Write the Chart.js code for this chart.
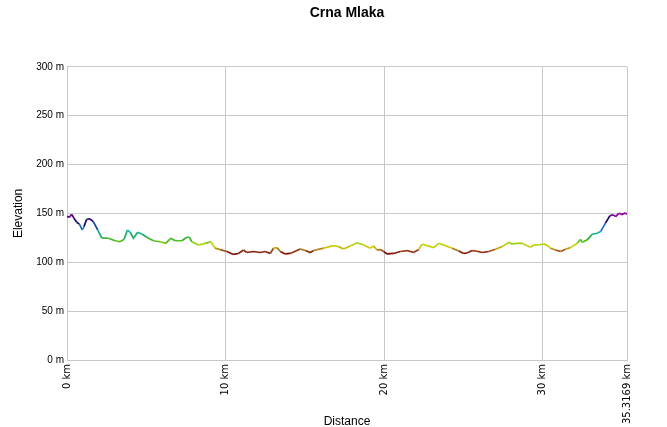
<!DOCTYPE html>
<html>
<head>
<meta charset="utf-8">
<script src="https://cdn.jsdelivr.net/npm/chart.js@4/dist/chart.umd.min.js"></script>
<style>
  html, body { margin: 0; padding: 0; background: #ffffff; }
  #wrap { width: 667px; height: 427px; position: relative; }
</style>
</head>
<body>
<div id="wrap"><canvas id="c" width="667" height="427"></canvas></div>
<script>
const chartTitle = "Crna Mlaka";
const xAxisTitle = "Distance";
const yAxisTitle = "Elevation";

// distance along the track, km
const distanceKm = [
  0, 0.13, 0.30, 0.44, 0.61, 0.78, 0.97, 1.07, 1.24, 1.45,
  1.66, 1.94, 2.19, 2.61, 3.03, 3.35, 3.6, 3.81, 3.98, 4.19,
  4.46, 4.72, 5.03, 5.45, 5.87, 6.23, 6.55, 6.82, 7.24, 7.56,
  7.72, 7.87, 8.29, 8.71, 9.07, 9.34, 9.66, 10.08, 10.5, 10.81,
  11.13, 11.34, 11.76, 12.18, 12.5, 12.82, 13.02, 13.24, 13.45, 13.76,
  14.08, 14.71, 15.03, 15.34, 15.55, 16.18, 16.81, 17.13, 17.44, 17.87,
  18.29, 18.71, 19.13, 19.34, 19.55, 19.76, 19.97, 20.18, 20.6, 21.02,
  21.45, 21.86, 22.18, 22.39, 22.71, 23.13, 23.44, 23.86, 24.29, 24.7,
  25.02, 25.23, 25.55, 25.87, 26.18, 26.6, 27.02, 27.44, 27.86, 28.07,
  28.39, 28.71, 29.02, 29.23, 29.44, 29.75, 30.07, 30.28, 30.49, 30.81,
  31.12, 31.44, 31.75, 32.18, 32.39, 32.49, 32.81, 33.12, 33.44, 33.65,
  33.96, 34.24, 34.45, 34.6, 34.8, 35.01, 35.16, 35.3169
];

// elevation, m
const elevationM = [
  147, 146, 149, 145, 141, 139, 133, 136.5, 144, 144.4,
  141.6, 133, 125, 124.6, 122, 121, 123.5, 133, 130.7, 124.6,
  130.7, 129, 125.6, 122, 121, 119.4, 124.6, 122, 122, 125.6,
  125.6, 121, 117.7, 119.4, 121, 114.4, 113, 111, 108, 109,
  112.6, 110, 111, 110, 111, 109, 114.4, 115, 111, 108.5,
  109, 113.6, 112, 110, 112, 114.4, 117, 116, 113.6, 116.7,
  120, 117.7, 114.4, 116.7, 112.6, 113, 111, 108.5, 109, 111,
  112, 110, 113, 118.4, 117, 115, 119.4, 117, 114.4, 111.6,
  109, 109.5, 112, 111.3, 110, 111, 113.3, 116, 120.5, 118.8,
  119.4, 119.4, 117, 115.4, 117.7, 117.7, 118.8, 117.3, 114.4, 112.6,
  111, 113.3, 115, 119.4, 123.5, 120.5, 122.9, 128.7, 129.7, 131.4,
  140, 147.7, 148.5, 146.7, 150.2, 148.8, 150.2, 149.5
];

const xTickValues = [0, 10, 20, 30, 35.3169];
const yTickValues = [0, 50, 100, 150, 200, 250, 300];

// colour ramp by elevation (styling)
const rampStops = [
  [108, [120, 0, 0]],
  [111, [140, 40, 20]],
  [113, [180, 120, 20]],
  [115.5, [210, 200, 10]],
  [118, [190, 215, 10]],
  [121, [100, 195, 25]],
  [125, [40, 175, 50]],
  [129, [20, 170, 130]],
  [133, [20, 200, 220]],
  [136, [30, 100, 190]],
  [140, [10, 20, 110]],
  [145, [40, 0, 110]],
  [149, [140, 0, 160]]
];
function rampColor(e) {
  if (e <= rampStops[0][0]) return 'rgb(' + rampStops[0][1].join(',') + ')';
  for (let i = 1; i < rampStops.length; i++) {
    if (e <= rampStops[i][0]) {
      const [e0, c0] = rampStops[i - 1], [e1, c1] = rampStops[i];
      const t = (e - e0) / (e1 - e0);
      const c = c0.map((v, k) => Math.round(v + (c1[k] - v) * t));
      return 'rgb(' + c.join(',') + ')';
    }
  }
  return 'rgb(' + rampStops[rampStops.length - 1][1].join(',') + ')';
}

const points = distanceKm.map((d, i) => ({ x: d, y: elevationM[i] }));
const gridColor = '#c8c8c8';

new Chart(document.getElementById('c'), {
  type: 'line',
  data: {
    datasets: [{
      data: points,
      borderWidth: 1.7,
      pointRadius: 0,
      tension: 0,
      borderColor: '#808000',
      segment: {
        borderColor: ctx => rampColor((ctx.p0.parsed.y + ctx.p1.parsed.y) / 2)
      }
    }]
  },
  options: {
    responsive: false,
    animation: false,
    layout: { padding: { left: 0, right: 40, top: 0, bottom: 0 } },
    plugins: {
      legend: { display: false },
      tooltip: { enabled: false },
      title: {
        display: true,
        text: chartTitle,
        fullSize: false,
        color: '#000',
        font: { family: 'Liberation Sans, Arial, sans-serif', size: 14, weight: 'bold' },
        padding: { top: 5, bottom: 45 }
      }
    },
    scales: {
      x: {
        type: 'linear',
        min: 0,
        max: 35.3169,
        afterBuildTicks: s => { s.ticks = xTickValues.map(v => ({ value: v })); },
        afterFit: s => { s.height = 67; },
        ticks: {
          autoSkip: false,
          minRotation: 90,
          maxRotation: 90,
          padding: 4,
          color: '#000',
          font: { family: 'DejaVu Sans, sans-serif', size: 10 },
          callback: v => v + ' km'
        },
        grid: { color: gridColor, drawTicks: false },
        border: { color: gridColor },
        title: {
          display: true,
          text: xAxisTitle,
          color: '#000',
          font: { family: 'Liberation Sans, Arial, sans-serif', size: 12 },
          padding: { top: 0, bottom: -2 }
        }
      },
      y: {
        min: 0,
        max: 300,
        afterBuildTicks: s => { s.ticks = yTickValues.map(v => ({ value: v })); },
        afterFit: s => { s.width = 67; },
        ticks: {
          padding: 3,
          color: '#000',
          font: { family: 'Liberation Sans, Arial, sans-serif', size: 10 },
          callback: v => v + ' m'
        },
        grid: { color: gridColor, drawTicks: false },
        border: { color: gridColor },
        title: {
          display: true,
          text: yAxisTitle,
          color: '#000',
          font: { family: 'Liberation Sans, Arial, sans-serif', size: 12 },
          padding: { top: 11, bottom: 0 }
        }
      }
    }
  }
});
</script>
</body>
</html>
